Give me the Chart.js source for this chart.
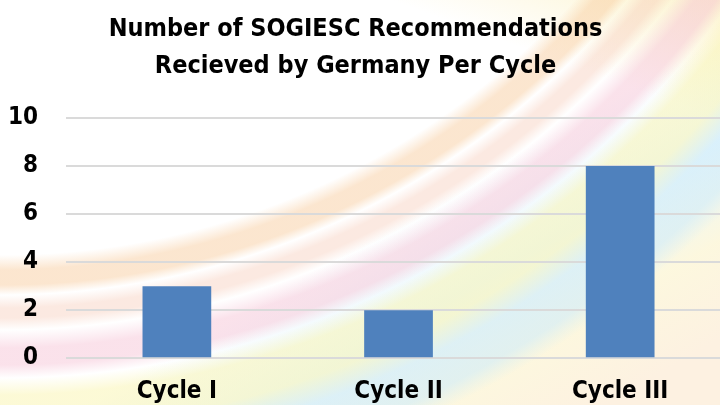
<!DOCTYPE html>
<html lang="en">
<head>
    <meta charset="UTF-8">
    <title>SOGIESC Recommendations - Germany</title>
    <script src="https://cdn.jsdelivr.net/npm/chart.js"></script>
    <style>
        html, body {
            margin: 0;
            padding: 0;
            width: 720px;
            height: 405px;
            overflow: hidden;
        }
        body {
            position: relative;
            background-color: #fff;
            background-image:
                radial-gradient(circle at 0px -520px,
                    rgba(255,255,255,0) 0px,
                    rgba(255,255,255,0) 775px,
                    rgba(248,205,160,0.5) 790px,
                    rgba(248,205,160,0.5) 805px,
                    rgba(255,255,255,0) 815px,
                    rgba(246,200,180,0.4) 828px,
                    rgba(246,200,180,0.4) 838px,
                    rgba(255,255,255,0) 850px,
                    rgba(245,190,210,0.45) 868px,
                    rgba(245,190,210,0.45) 885px,
                    rgba(255,255,255,0) 898px,
                    rgba(250,245,180,0.55) 915px,
                    rgba(250,245,180,0.55) 950px,
                    rgba(205,235,250,0.55) 975px,
                    rgba(205,235,250,0.55) 1010px,
                    rgba(255,255,255,0) 1030px),
                linear-gradient(150deg,
                    rgba(255,255,255,0) 55%,
                    rgba(210,238,250,0.5) 68%,
                    rgba(250,240,190,0.5) 80%,
                    rgba(250,220,180,0.4) 92%),
                linear-gradient(200deg,
                    rgba(250,235,170,0.55) 0%,
                    rgba(255,255,255,0) 18%);
        }
        .chart-wrap {
            position: absolute;
            left: -28px;
            top: 0;
            width: 759px;
            height: 417px;
        }
    </style>
</head>
<body>
    <div class="chart-wrap">
        <canvas id="cycleChart"></canvas>
    </div>

    <script>
        // data
        const cycles = ['Cycle I', 'Cycle II', 'Cycle III'];
        const recommendations = [3, 2, 8];
        const titleLines = ['Number of SOGIESC Recommendations', 'Recieved by Germany Per Cycle'];
        const yTicks = [0, 2, 4, 6, 8, 10];

        const narrowFont = "'Liberation Sans Narrow', 'Arial Narrow', 'DejaVu Sans Condensed', sans-serif";

        const ctx = document.getElementById('cycleChart').getContext('2d');
        new Chart(ctx, {
            type: 'bar',
            data: {
                labels: cycles,
                datasets: [{
                    label: 'Recommendations',
                    data: recommendations,
                    backgroundColor: '#4f81bd',
                    borderWidth: 0,
                    categoryPercentage: 1,
                    barPercentage: 0.31
                }]
            },
            options: {
                responsive: true,
                maintainAspectRatio: false,
                animation: false,
                layout: {
                    padding: { left: 8, right: 0, top: 0, bottom: 0 }
                },
                scales: {
                    x: {
                        grid: { display: false },
                        border: { display: false },
                        ticks: {
                            color: '#000',
                            padding: 11,
                            font: { family: narrowFont, size: 24, weight: 'bold' }
                        }
                    },
                    y: {
                        min: yTicks[0],
                        max: yTicks[yTicks.length - 1],
                        afterBuildTicks: axis => {
                            axis.ticks = yTicks.map(v => ({ value: v }));
                        },
                        grid: {
                            color: '#dadada',
                            lineWidth: 2,
                            drawTicks: false
                        },
                        border: { display: false },
                        ticks: {
                            color: '#000',
                            padding: 28,
                            font: { family: narrowFont, size: 24, weight: 'bold' }
                        }
                    }
                },
                plugins: {
                    legend: { display: false },
                    tooltip: { enabled: false },
                    title: {
                        display: true,
                        text: titleLines,
                        color: '#000',
                        font: { family: narrowFont, size: 25, weight: 'bold', lineHeight: 1.48 },
                        padding: { top: 11, bottom: 33 }
                    }
                }
            }
        });
    </script>
</body>
</html>
